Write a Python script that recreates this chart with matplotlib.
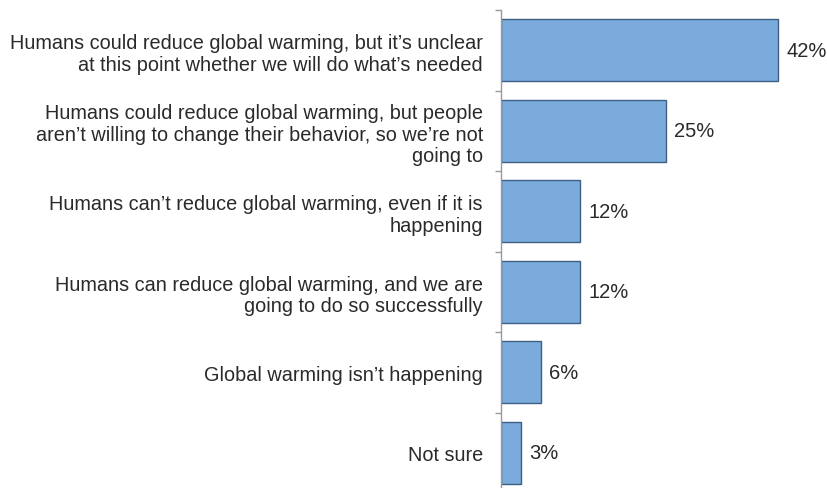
import matplotlib
matplotlib.use("Agg")
import matplotlib.pyplot as plt
import numpy as np

plt.rcParams['font.family'] = ['Liberation Sans', 'DejaVu Sans']

# Données
categories = [
    "Humans could reduce global warming, but it\u2019s unclear\nat this point whether we will do what\u2019s needed",
    "Humans could reduce global warming, but people\naren\u2019t willing to change their behavior, so we\u2019re not\ngoing to",
    "Humans can\u2019t reduce global warming, even if it is\nhappening",
    "Humans can reduce global warming, and we are\ngoing to do so successfully",
    "Global warming isn\u2019t happening",
    "Not sure",
]
values = [42, 25, 12, 12, 6, 3]
value_labels = ["42%", "25%", "12%", "12%", "6%", "3%"]

fig = plt.figure(figsize=(8.28, 4.89), dpi=100)
# axes placé en pixels : gauche 501, haut ~11, bas ~494
ax = fig.add_axes([501 / 828, 1 - 494 / 489, 317 / 828, (494 - 11) / 489])

y = np.arange(len(categories))
ax.barh(y, values, height=0.77, color='#7aabdc', edgecolor='#3f5f85', linewidth=1.0)

ax.set_xlim(0, 48)
ax.set_ylim(len(categories) - 0.5, -0.5)

for yi, v, lab in zip(y, values, value_labels):
    ax.text(v + 1.2, yi, lab, va='center', ha='left', fontsize=14.5, color='#2a2a2a')

for s in ['top', 'right', 'bottom']:
    ax.spines[s].set_visible(False)
ax.spines['left'].set_color('#9a9a9a')
ax.spines['left'].set_linewidth(1.0)

ax.set_xticks([])
ax.set_yticks(y)
ax.set_yticklabels(categories, fontsize=14.3, color='#2a2a2a', linespacing=1.17)
ax.tick_params(axis='y', which='major', length=0, pad=13)
ax.set_yticks(np.arange(-0.5, len(categories), 1.0), minor=True)
ax.tick_params(axis='y', which='minor', length=4, width=1.0, color='#9a9a9a', direction='out')

plt.savefig('out.png', dpi=100)
